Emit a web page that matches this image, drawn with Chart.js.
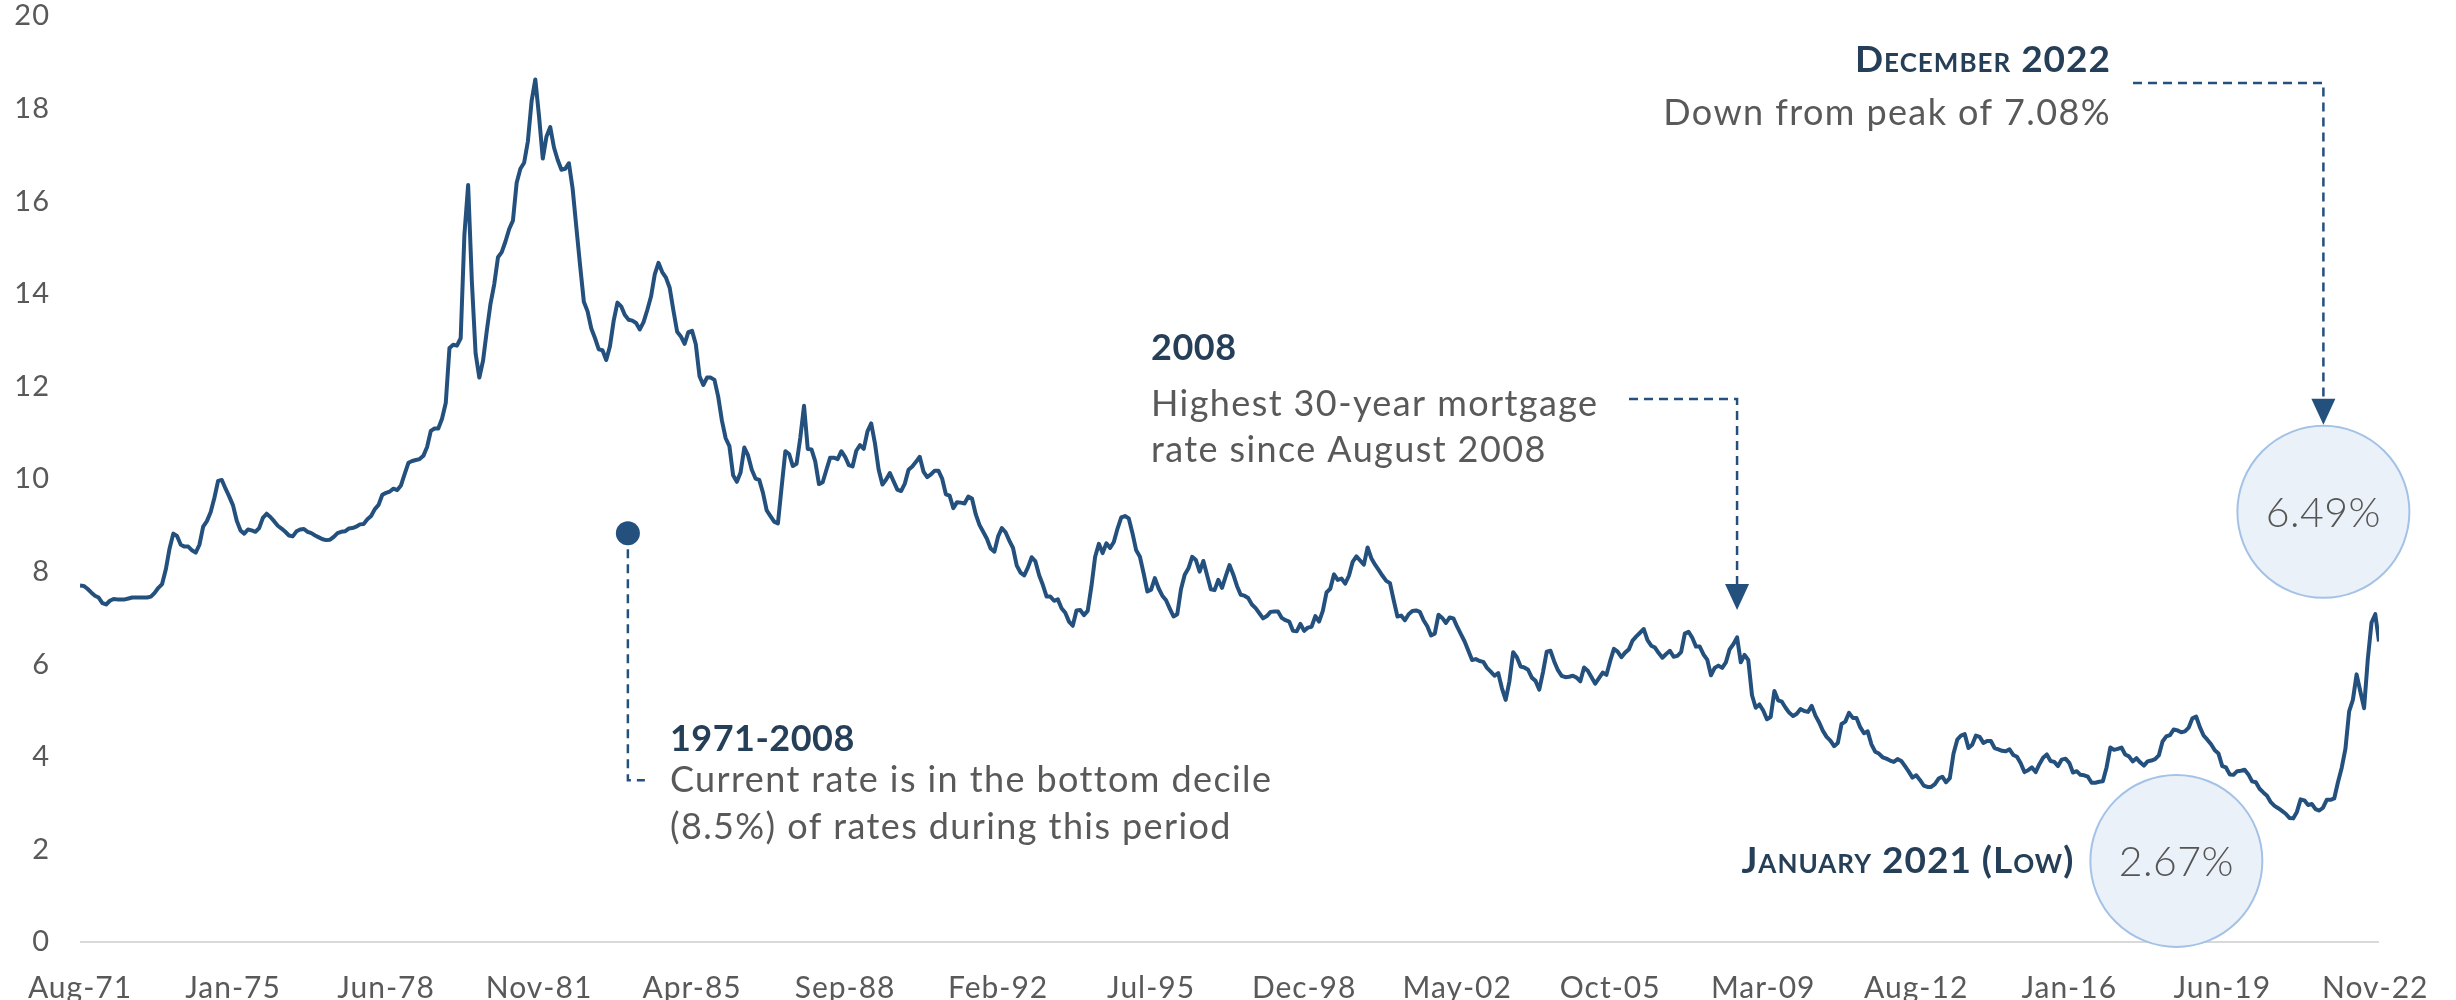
<!DOCTYPE html>
<html>
<head>
<meta charset="utf-8">
<title>30-Year Fixed Mortgage Rate</title>
<script src="https://cdn.jsdelivr.net/npm/chart.js@4.4.0/dist/chart.umd.min.js"></script>
<style>
  html, body { margin: 0; padding: 0; background: #fff; }
  #wrap { width: 2456px; height: 1000px; }
</style>
</head>
<body>
<div id="wrap"><canvas id="rates" width="2456" height="1000"></canvas></div>
<script>
// 30-year fixed mortgage rate (%), one value per month starting Aug 1971
const rates1971to1979 = [
  7.70, 7.69, 7.63, 7.55, 7.48,
  7.44, 7.32, 7.29, 7.37, 7.41, 7.40, 7.40, 7.40, 7.42, 7.44, 7.44, 7.44,
  7.44, 7.44, 7.46, 7.54, 7.65, 7.73, 8.05, 8.50, 8.82, 8.77, 8.58, 8.54,
  8.54, 8.46, 8.41, 8.58, 8.97, 9.09, 9.28, 9.59, 9.96, 9.98, 9.79, 9.62,
  9.43, 9.10, 8.89, 8.82, 8.91, 8.89, 8.86, 8.94, 9.16, 9.25, 9.18, 9.09,
  8.99, 8.93, 8.86, 8.78, 8.76, 8.87, 8.91, 8.92, 8.86, 8.83, 8.78, 8.74,
  8.70, 8.68, 8.69, 8.75, 8.83, 8.86, 8.87, 8.93, 8.94, 8.97, 9.02, 9.03,
  9.13, 9.20, 9.35, 9.44, 9.66, 9.70, 9.73, 9.79, 9.76, 9.86, 10.11, 10.35,
  10.39, 10.41, 10.43, 10.50, 10.69, 11.04, 11.09, 11.09, 11.30, 11.64, 12.83, 12.90
];
const rates1980s = [
  12.88, 13.04, 15.28, 16.35, 14.26, 12.71, 12.19, 12.56, 13.20, 13.79, 14.21, 14.79,
  14.90, 15.13, 15.40, 15.58, 16.40, 16.70, 16.83, 17.29, 18.16, 18.63, 17.83, 16.92,
  17.40, 17.60, 17.16, 16.89, 16.68, 16.70, 16.82, 16.27, 15.43, 14.61, 13.83, 13.62,
  13.25, 13.04, 12.80, 12.78, 12.57, 12.87, 13.42, 13.81, 13.73, 13.54, 13.44, 13.42,
  13.37, 13.23, 13.39, 13.65, 13.94, 14.42, 14.67, 14.47, 14.35, 14.13, 13.64, 13.18,
  13.08, 12.92, 13.17, 13.20, 12.91, 12.22, 12.03, 12.19, 12.19, 12.14, 11.78, 11.26,
  10.88, 10.71, 10.08, 9.94, 10.14, 10.68, 10.51, 10.20, 10.01, 9.98, 9.70, 9.32,
  9.20, 9.08, 9.04, 9.83, 10.60, 10.54, 10.28, 10.33, 10.89, 11.58, 10.65, 10.64,
  10.38, 9.89, 9.93, 10.20, 10.46, 10.46, 10.43, 10.60, 10.48, 10.30, 10.27, 10.61,
  10.73, 10.65, 11.03, 11.20, 10.77, 10.20, 9.88, 9.99, 10.13, 9.95, 9.77, 9.74
];
const rates1990s = [
  9.90, 10.20, 10.27, 10.37, 10.48, 10.16, 10.04, 10.10, 10.18, 10.18, 10.01, 9.67,
  9.64, 9.37, 9.50, 9.49, 9.47, 9.62, 9.58, 9.24, 9.01, 8.86, 8.71, 8.50,
  8.43, 8.76, 8.94, 8.85, 8.67, 8.51, 8.13, 7.98, 7.92, 8.09, 8.31, 8.22,
  7.92, 7.71, 7.46, 7.46, 7.37, 7.40, 7.21, 7.11, 6.92, 6.83, 7.16, 7.17,
  7.06, 7.15, 7.68, 8.32, 8.60, 8.40, 8.61, 8.51, 8.64, 8.93, 9.17, 9.20,
  9.15, 8.83, 8.46, 8.32, 7.96, 7.57, 7.61, 7.86, 7.64, 7.48, 7.38, 7.20,
  7.03, 7.08, 7.62, 7.93, 8.07, 8.32, 8.25, 8.00, 8.23, 7.92, 7.62, 7.60,
  7.82, 7.65, 7.90, 8.14, 7.94, 7.69, 7.50, 7.48, 7.43, 7.29, 7.21, 7.10,
  6.99, 7.04, 7.13, 7.14, 7.14, 7.00, 6.95, 6.92, 6.72, 6.71, 6.87, 6.72,
  6.79, 6.81, 7.04, 6.92, 7.15, 7.55, 7.63, 7.94, 7.82, 7.85, 7.74, 7.91
];
const rates2000s = [
  8.21, 8.33, 8.24, 8.15, 8.52, 8.29, 8.15, 8.03, 7.91, 7.80, 7.75, 7.38,
  7.03, 7.05, 6.95, 7.08, 7.15, 7.16, 7.13, 6.95, 6.82, 6.62, 6.66, 7.07,
  7.00, 6.89, 7.01, 6.99, 6.81, 6.65, 6.49, 6.29, 6.09, 6.11, 6.07, 6.05,
  5.92, 5.84, 5.75, 5.81, 5.48, 5.23, 5.63, 6.26, 6.15, 5.95, 5.93, 5.88,
  5.71, 5.64, 5.45, 5.83, 6.27, 6.29, 6.06, 5.87, 5.75, 5.72, 5.73, 5.75,
  5.71, 5.63, 5.93, 5.86, 5.72, 5.58, 5.70, 5.82, 5.77, 6.07, 6.33, 6.27,
  6.15, 6.25, 6.32, 6.51, 6.60, 6.68, 6.76, 6.52, 6.40, 6.36, 6.24, 6.14,
  6.22, 6.29, 6.16, 6.18, 6.26, 6.66, 6.70, 6.57, 6.38, 6.38, 6.21, 6.10,
  5.76, 5.92, 5.97, 5.92, 6.04, 6.32, 6.43, 6.58, 6.04, 6.20, 6.09, 5.33,
  5.06, 5.13, 5.00, 4.81, 4.86, 5.42, 5.22, 5.19, 5.06, 4.95, 4.88, 4.93
];
const rates2010s = [
  5.03, 4.99, 4.97, 5.10, 4.89, 4.74, 4.56, 4.43, 4.35, 4.23, 4.30, 4.71,
  4.76, 4.95, 4.84, 4.84, 4.64, 4.51, 4.55, 4.27, 4.11, 4.07, 3.99, 3.96,
  3.92, 3.89, 3.95, 3.91, 3.80, 3.68, 3.55, 3.60, 3.50, 3.38, 3.35, 3.35,
  3.41, 3.53, 3.57, 3.45, 3.54, 4.07, 4.37, 4.46, 4.49, 4.19, 4.26, 4.46,
  4.43, 4.30, 4.34, 4.34, 4.19, 4.16, 4.13, 4.12, 4.16, 4.04, 4.00, 3.86,
  3.67, 3.71, 3.77, 3.67, 3.84, 3.98, 4.05, 3.91, 3.89, 3.80, 3.94, 3.96,
  3.87, 3.66, 3.69, 3.61, 3.60, 3.57, 3.44, 3.44, 3.46, 3.47, 3.77, 4.20,
  4.15, 4.17, 4.20, 4.05, 4.01, 3.90, 3.97, 3.88, 3.81, 3.90, 3.92, 3.95,
  4.03, 4.33, 4.44, 4.47, 4.59, 4.57, 4.53, 4.55, 4.63, 4.83, 4.87, 4.64,
  4.46, 4.37, 4.27, 4.14, 4.07, 3.80, 3.77, 3.62, 3.61, 3.69, 3.70, 3.72
];
const rates2020s = [
  3.62, 3.47, 3.45, 3.31, 3.23, 3.16, 3.02, 2.94, 2.89, 2.83, 2.77, 2.68,
  2.67, 2.81, 3.08, 3.06, 2.96, 2.98, 2.87, 2.84, 2.90, 3.07, 3.07, 3.10,
  3.45, 3.76, 4.17, 4.98, 5.23, 5.78, 5.41, 5.05, 6.11, 6.90, 7.08, 6.49
];

// one label every 41 months, starting with the first month
const tickLabels = [
  'Aug-71', 'Jan-75', 'Jun-78', 'Nov-81', 'Apr-85', 'Sep-88', 'Feb-92', 'Jul-95',
  'Dec-98', 'May-02', 'Oct-05', 'Mar-09', 'Aug-12', 'Jan-16', 'Jun-19', 'Nov-22'
];
const tickStep = 41;
const yTicks = [0, 2, 4, 6, 8, 10, 12, 14, 16, 18, 20];

const rates = [].concat(rates1971to1979, rates1980s, rates1990s, rates2000s, rates2010s, rates2020s);
const points = rates.map((v, i) => ({ x: i, y: v }));

const BLUE = '#24507e';
const NAVY = '#263f58';
const GREY = '#595959';

// callouts: anchors are in data units (month index, rate), text offsets in px
const notes = {
  decile: { month: 146.8, rate: 8.83, title: '1971-2008',
    lines: ['Current rate is in the bottom decile', '(8.5%) of rates during this period'] },
  peak2008: { month: 444, title: '2008', lines: ['Highest 30-year mortgage', 'rate since August 2008'] },
  latest: { month: 601.1, rate: 9.29, title: 'December 2022', lines: ['Down from peak of 7.08%'], value: '6.49%' },
  low: { month: 561.7, rate: 1.75, title: 'January 2021 (Low)', value: '2.67%' }
};

function say(ctx, str, x, y, font, color, align, spacing) {
  ctx.font = font;
  ctx.fillStyle = color;
  ctx.textAlign = align || 'left';
  ctx.textBaseline = 'middle';
  ctx.letterSpacing = spacing || '0px';
  ctx.fillText(str, x, y);
  ctx.letterSpacing = '0px';
}

function dashed(ctx, pts) {
  ctx.save();
  ctx.strokeStyle = BLUE;
  ctx.lineWidth = 2.5;
  ctx.setLineDash([9, 6]);
  ctx.beginPath();
  ctx.moveTo(pts[0][0], pts[0][1]);
  for (let i = 1; i < pts.length; i++) ctx.lineTo(pts[i][0], pts[i][1]);
  ctx.stroke();
  ctx.restore();
}

function arrowHead(ctx, x, tipY) {
  ctx.fillStyle = BLUE;
  ctx.beginPath();
  ctx.moveTo(x - 12, tipY - 26);
  ctx.lineTo(x + 12, tipY - 26);
  ctx.lineTo(x, tipY);
  ctx.closePath();
  ctx.fill();
}

function bubble(ctx, x, y, label) {
  ctx.beginPath();
  ctx.arc(x, y, 86, 0, Math.PI * 2);
  ctx.fillStyle = '#ebf1f9';
  ctx.fill();
  ctx.lineWidth = 2;
  ctx.strokeStyle = '#a3c2e6';
  ctx.stroke();
  say(ctx, label, x, y + 2, '300 41px Lato', '#555', 'center', '0.5px');
}

const TITLE_FONT = '700 36px Lato';
const CAPS_FONT = 'small-caps 700 37px Lato';
const BODY_FONT = '400 36px Lato';
const BODY_SPACING = '1.4px';

const calloutPlugin = {
  id: 'callouts',
  beforeDraw(chart) {
    chart.ctx.letterSpacing = '1px';
  },
  afterDraw(chart) {
    const { ctx, scales: { x, y } } = chart;
    ctx.save();

    // 1971-2008: dot with a dashed leader down to the note
    const d = notes.decile;
    const dx = x.getPixelForValue(d.month);
    const dy = y.getPixelForValue(d.rate);
    ctx.fillStyle = BLUE;
    ctx.beginPath();
    ctx.arc(dx, dy, 12, 0, Math.PI * 2);
    ctx.fill();
    dashed(ctx, [[dx, dy + 16], [dx, dy + 247], [dx + 17, dy + 247]]);
    say(ctx, d.title, dx + 42, dy + 206, TITLE_FONT, NAVY, 'left', '0.5px');
    say(ctx, d.lines[0], dx + 42, dy + 247, BODY_FONT, GREY, 'left', BODY_SPACING);
    say(ctx, d.lines[1], dx + 42, dy + 294, BODY_FONT, GREY, 'left', BODY_SPACING);

    // 2008: note with a dashed elbow down to the line
    const p = notes.peak2008;
    const px = x.getPixelForValue(p.month);
    say(ctx, p.title, 1151, 348, TITLE_FONT, NAVY, 'left', '0.5px');
    say(ctx, p.lines[0], 1151, 404, BODY_FONT, GREY, 'left', BODY_SPACING);
    say(ctx, p.lines[1], 1151, 450, BODY_FONT, GREY, 'left', BODY_SPACING);
    dashed(ctx, [[1629, 399], [px, 399], [px, 586]]);
    arrowHead(ctx, px, 610);

    // December 2022: latest reading in a bubble
    const l = notes.latest;
    const lx = x.getPixelForValue(l.month);
    const ly = y.getPixelForValue(l.rate);
    say(ctx, l.title, 2111, 60, CAPS_FONT, NAVY, 'right', '1px');
    say(ctx, l.lines[0], 2111, 113, BODY_FONT, GREY, 'right', BODY_SPACING);
    dashed(ctx, [[2133, 83], [lx, 83], [lx, ly - 112]]);
    arrowHead(ctx, lx, ly - 87);
    bubble(ctx, lx, ly, l.value);

    // January 2021 low
    const w = notes.low;
    const wx = x.getPixelForValue(w.month);
    const wy = y.getPixelForValue(w.rate);
    bubble(ctx, wx, wy, w.value);
    say(ctx, w.title, wx - 102, wy, CAPS_FONT, NAVY, 'right', '1px');

    ctx.restore();
  }
};

new Chart(document.getElementById('rates'), {
  type: 'line',
  data: {
    datasets: [{
      label: '30-year fixed mortgage rate',
      data: points,
      borderColor: BLUE,
      borderWidth: 4,
      pointRadius: 0,
      tension: 0,
      borderJoinStyle: 'round'
    }]
  },
  options: {
    responsive: false,
    animation: false,
    events: [],
    layout: { padding: { top: 16, right: 77, left: 0, bottom: 0 } },
    plugins: { legend: { display: false }, tooltip: { enabled: false } },
    scales: {
      x: {
        type: 'linear',
        min: 0,
        max: rates.length - 1,
        grid: { display: false },
        border: { display: false },
        afterBuildTicks: axis => {
          axis.ticks = tickLabels.map((_, i) => ({ value: i * tickStep }));
        },
        afterFit: axis => { axis.height = 58; },
        ticks: {
          autoSkip: false,
          maxRotation: 0,
          padding: 20,
          color: GREY,
          font: { family: 'Lato', size: 30 },
          callback: v => tickLabels[Math.round(v / tickStep)]
        }
      },
      y: {
        min: 0,
        max: 20,
        afterBuildTicks: axis => {
          axis.ticks = yTicks.map(v => ({ value: v }));
        },
        afterFit: axis => {
          axis.width = 80;
          // let the top tick label hang over the plot edge
          axis.paddingTop = 0;
          axis.paddingBottom = 0;
        },
        border: { display: false },
        grid: {
          drawTicks: false,
          lineWidth: 2,
          color: c => (c.tick && c.tick.value === 0 ? '#d9d9d9' : 'rgba(0,0,0,0)')
        },
        ticks: {
          padding: 30,
          color: GREY,
          font: { family: 'Lato', size: 29 }
        }
      }
    }
  },
  plugins: [calloutPlugin]
});
</script>
</body>
</html>
